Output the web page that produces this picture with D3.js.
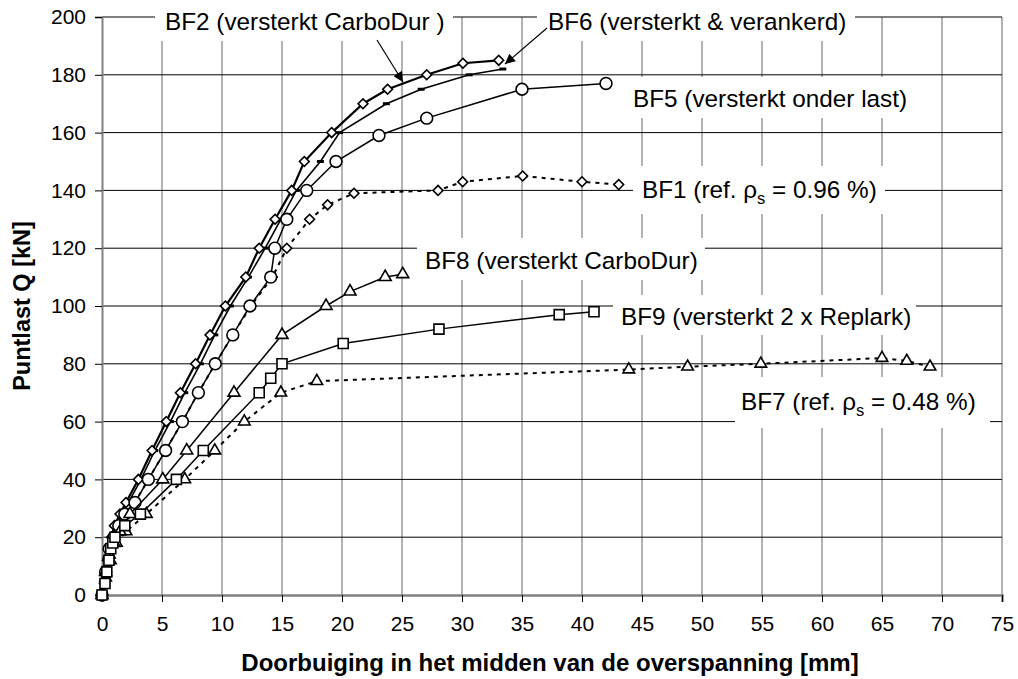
<!DOCTYPE html>
<html><head><meta charset="utf-8">
<script src="https://cdn.jsdelivr.net/npm/d3@7"></script>
<style>
body{margin:0;background:#fff;}
svg text{font-family:"Liberation Sans",Arial,sans-serif;}
</style></head>
<body><svg id="c" width="1018" height="679"></svg>
<script>
// ---- data ----
const bf2X=[0,0.2,0.3,0.45,0.6,0.8,1.03,1.5,2.0,3.03,4.17,5.36,6.53,7.8,9.0,10.28,11.98,13.1,14.42,15.81,16.86,19.14,21.75,23.8,27.06,30.08,33.06];
const bf2Y=[0,4,8,12,16,20,24,28,32,40,50,60,70,80,90,100,110,120,130,140,150,160,170,175,180,184,185];
const bf6X=[0,0.2,0.35,0.5,0.7,0.9,1.2,1.7,2.2,3.25,4.4,5.7,6.9,8.2,9.4,10.7,12.2,13.6,14.9,16.2,18.2,19.8,23.7,26.6,30.6,33.4];
const bf6Y=[0,4,8,12,16,20,24,28,32,40,50,60,70,80,90,100,110,120,130,140,150,160,170,175,180,182];
const bf5X=[0,0.3,0.6,1.0,1.4,1.9,2.75,3.86,5.3,6.7,8.03,9.44,10.9,12.33,14.06,14.4,15.4,17.06,19.5,23.08,27.06,35.0,42.0];
const bf5Y=[0,8,16,20,24,28,32,40,50,60,70,80,90,100,110,120,130,140,150,159,165,175,177];
const bf1X=[0,0.3,0.6,1.0,1.4,1.9,2.75,3.86,5.3,6.7,8.03,9.44,10.9,12.4,14.2,15.4,17.3,18.8,21.0,28.0,30.06,35.06,40.0,43.06];
const bf1Y=[0,8,16,20,24,28,32,40,50,60,70,80,90,100,110,120,130,135,139,140,143,145,143,142];
const bf8X=[0,0.3,0.6,1.0,1.5,2.33,5.06,7.06,11.0,15.0,18.67,20.67,23.6,25.06];
const bf8Y=[0,8,14,18,22,28,40,50,70,90,100,105,110,111];
const bf9X=[0,0.25,0.4,0.58,0.73,0.9,1.08,1.9,3.2,6.2,8.44,13.1,14.06,15.0,20.1,28.08,38.1,41.0];
const bf9Y=[0,4,8,12,16,18,20,24,28,40,50,70,75,80,87,92,97,98];
const bf7X=[0,0.3,0.7,1.2,2.0,3.7,6.9,9.4,11.86,14.9,17.9,43.9,48.8,54.9,65.0,67.06,69.0];
const bf7Y=[0,6,12,18,22,28,40,50,60,70,74,78,79,80,82,81,79];
const xTicks=[0,5,10,15,20,25,30,35,40,45,50,55,60,65,70,75];
const yTicks=[0,20,40,60,80,100,120,140,160,180,200];
const xTitle="Doorbuiging in het midden van de overspanning [mm]";
const yTitle="Puntlast Q [kN]";

// ---- layout ----
const L=102,R=1002,T=17,B=595;
const svg=d3.select("#c");
const x=d3.scaleLinear().domain([0,75]).range([L,R]);
const y=d3.scaleLinear().domain([0,200]).range([B,T]);
const FONT='"Liberation Sans",Arial,sans-serif';

// gridlines
svg.append("g").selectAll("line").data(xTicks.slice(1)).join("line")
  .attr("x1",d=>x(d)).attr("x2",d=>x(d)).attr("y1",T).attr("y2",B)
  .attr("stroke","#808080").attr("stroke-width",1.2);
svg.append("g").selectAll("line").data(yTicks.slice(1)).join("line")
  .attr("x1",L).attr("x2",R).attr("y1",d=>y(d)).attr("y2",d=>y(d))
  .attr("stroke","#000").attr("stroke-width",1);

// axes
const ax=svg.append("g").attr("transform",`translate(0,${B})`)
  .call(d3.axisBottom(x).tickValues(xTicks).tickSize(7).tickPadding(14).tickFormat(d3.format("d")));
ax.select(".domain").attr("stroke","#808080").attr("stroke-width",2.5);
ax.selectAll(".tick line").attr("stroke","#000");
ax.selectAll("text").attr("font-size",21).attr("font-family",FONT).attr("fill","#000");
const ay=svg.append("g").attr("transform",`translate(${L},0)`)
  .call(d3.axisLeft(y).tickValues(yTicks).tickSize(7).tickPadding(9).tickFormat(d3.format("d")));
ay.select(".domain").attr("stroke","#808080").attr("stroke-width",2);
ay.selectAll(".tick line").attr("stroke","#000");
ay.selectAll("text").attr("font-size",21).attr("font-family",FONT).attr("fill","#000");

svg.append("text").attr("x",(L+R)/2-2).attr("y",671).attr("text-anchor","middle")
  .attr("font-weight","bold").attr("font-size",24).text(xTitle);
svg.append("text").attr("transform","translate(30,306) rotate(-90)").attr("text-anchor","middle")
  .attr("font-weight","bold").attr("font-size",23.5).text(yTitle);

// label boxes (white, cover gridlines)
const boxes=[[155,0,298,41],[537,0,318,41],[625,77,280,41],[633,166,252,48],[417,238,288,42],[613,295,303,40],[735,377,255,51]];
svg.append("g").selectAll("rect").data(boxes).join("rect")
  .attr("x",d=>d[0]).attr("y",d=>d[1]).attr("width",d=>d[2]).attr("height",d=>d[3]).attr("fill","#fff");

// series
const zip=(a,b)=>a.map((v,i)=>[v,b[i]]);
const line=d3.line().x(d=>x(d[0])).y(d=>y(d[1]));
function series(X,Y,opt){
  const g=svg.append("g");
  const pts=zip(X,Y);
  g.append("path").attr("d",line(pts)).attr("fill","none").attr("stroke","#000")
    .attr("stroke-width",opt.w).attr("stroke-dasharray",opt.dash||null);
  const sym=opt.sym;
  if(sym==="dash"){
    g.selectAll("rect").data(pts).join("rect")
      .attr("x",d=>x(d[0])-3.5).attr("y",d=>y(d[1])-1.5).attr("width",7).attr("height",3).attr("fill","#000");
  }else{
    g.selectAll("path.m").data(pts).join("path").attr("class","m")
      .attr("d",d3.symbol().type(sym).size(opt.size))
      .attr("transform",d=>`translate(${x(d[0])},${y(d[1])})`+(opt.rot?" rotate(45)":""))
      .attr("fill","#fff").attr("stroke","#000").attr("stroke-width",1.6);
  }
}
series(bf1X,bf1Y,{w:2,dash:"4,5",sym:d3.symbolSquare,size:48,rot:true});
series(bf7X,bf7Y,{w:2,dash:"4,5",sym:d3.symbolTriangle,size:58});
series(bf6X,bf6Y,{w:1.6,sym:"dash"});
series(bf2X,bf2Y,{w:2.2,sym:d3.symbolSquare,size:48,rot:true});
series(bf5X,bf5Y,{w:1.5,sym:d3.symbolCircle,size:110});
series(bf8X,bf8Y,{w:1.5,sym:d3.symbolTriangle,size:62});
series(bf9X,bf9Y,{w:1.5,sym:d3.symbolSquare,size:100});

// arrows
const defs=svg.append("defs");
defs.append("marker").attr("id","ah").attr("viewBox","0 0 10 10").attr("refX",10).attr("refY",5)
  .attr("markerWidth",14).attr("markerHeight",10).attr("markerUnits","userSpaceOnUse").attr("orient","auto")
  .append("path").attr("d","M0,0L10,5L0,10z").attr("fill","#000");
svg.append("line").attr("x1",377).attr("y1",40).attr("x2",403).attr("y2",82)
  .attr("stroke","#000").attr("stroke-width",1.2).attr("marker-end","url(#ah)");
svg.append("line").attr("x1",547).attr("y1",28).attr("x2",505).attr("y2",64)
  .attr("stroke","#000").attr("stroke-width",1.2).attr("marker-end","url(#ah)");

// labels
const labs=[
  {x:165,y:30,t:"BF2 (versterkt CarboDur )"},
  {x:548,y:30,t:"BF6 (versterkt & verankerd)"},
  {x:633,y:107,t:"BF5 (versterkt onder last)"},
  {x:425,y:269,t:"BF8 (versterkt CarboDur)"},
  {x:621,y:325,t:"BF9 (versterkt 2 x Replark)"}
];
svg.append("g").selectAll("text").data(labs).join("text")
  .attr("x",d=>d.x).attr("y",d=>d.y).attr("font-size",24.3).text(d=>d.t);
function rhoLabel(x0,y0,pre,post){
  const t=svg.append("text").attr("x",x0).attr("y",y0).attr("font-size",24.3);
  t.append("tspan").text(pre+"ρ");
  t.append("tspan").attr("font-size",16.5).attr("dy",6).text("s");
  t.append("tspan").attr("dy",-6).text(post);
}
rhoLabel(642,198,"BF1 (ref. "," = 0.96 %)");
rhoLabel(741,410,"BF7 (ref. "," = 0.48 %)");
</script></body></html>
